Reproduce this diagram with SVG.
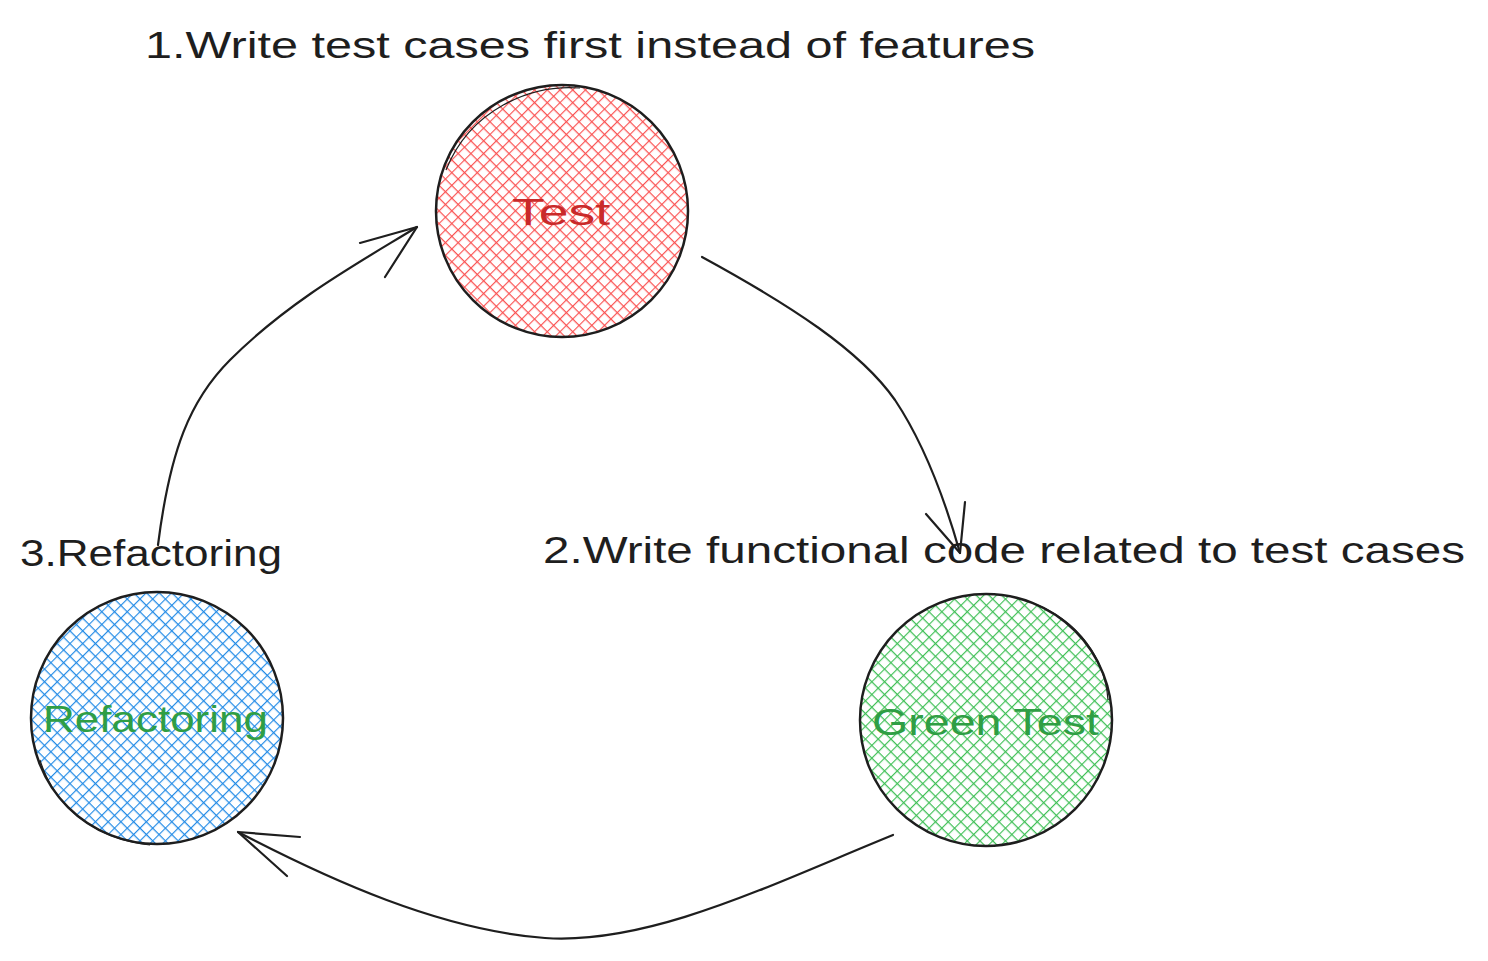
<svg xmlns="http://www.w3.org/2000/svg" width="1488" height="961" viewBox="0 0 1488 961">
<defs>
<pattern id="hRed" width="9" height="9" patternUnits="userSpaceOnUse" patternTransform="rotate(45)">
<path d="M0,0.5 H9 M0.5,0 V9" stroke="#fa5252" stroke-width="1.3" fill="none"/>
</pattern>
<pattern id="hBlue" width="9" height="9" patternUnits="userSpaceOnUse" patternTransform="rotate(45)">
<path d="M0,0.5 H9 M0.5,0 V9" stroke="#228be6" stroke-width="1.3" fill="none"/>
</pattern>
<pattern id="hGreen" width="9" height="9" patternUnits="userSpaceOnUse" patternTransform="rotate(45)">
<path d="M0,0.5 H9 M0.5,0 V9" stroke="#40c057" stroke-width="1.3" fill="none"/>
</pattern>
</defs>
<style>
.ring{stroke:#1e1e1e;stroke-width:2.5;}
.ring2{fill:none;stroke:#1e1e1e;stroke-width:1.2;}
.lbl{font-family:"Liberation Sans","DejaVu Sans",sans-serif;font-size:36px;fill:#1e1e1e;}
.in{font-family:"Liberation Sans","DejaVu Sans",sans-serif;font-size:36px;}
.conn{fill:none;stroke:#1e1e1e;stroke-width:2.2;stroke-linecap:round;stroke-linejoin:round;}
</style>
<rect width="1488" height="961" fill="#ffffff"/>
<g id="node-test">
<circle cx="562" cy="211" r="126" fill="url(#hRed)" class="ring"/>
<path class="ring2" d="M446,170 C470,110 530,84 580,88"/>
<text class="in" x="512" y="225" fill="#c92a2a" textLength="98" lengthAdjust="spacingAndGlyphs">Test</text>
</g>
<g id="node-green">
<circle cx="986" cy="720" r="126" fill="url(#hGreen)" class="ring"/>
<path class="ring2" d="M1030,602 C1080,620 1105,660 1108,700"/>
<text class="in" x="872" y="735" fill="#2f9e44" textLength="227" lengthAdjust="spacingAndGlyphs">Green Test</text>
</g>
<g id="node-refactoring">
<circle cx="157" cy="718" r="126" fill="url(#hBlue)" class="ring"/>
<path class="ring2" d="M40,760 C55,810 100,840 150,845"/>
<text class="in" x="43" y="732" fill="#2f9e44" textLength="225" lengthAdjust="spacingAndGlyphs">Refactoring</text>
</g>
<g id="label-1">
<text class="lbl" x="145" y="58" textLength="890" lengthAdjust="spacingAndGlyphs">1.Write test cases first instead of features</text>
</g>
<g id="label-2">
<text class="lbl" x="543" y="563" textLength="922" lengthAdjust="spacingAndGlyphs">2.Write functional code related to test cases</text>
</g>
<g id="label-3">
<text class="lbl" x="20" y="566" textLength="262" lengthAdjust="spacingAndGlyphs">3.Refactoring</text>
</g>
<g id="connectors">
<path class="conn" d="M702,257 C790,305 860,350 895,400 C925,445 945,500 960,553"/>
<path class="conn" d="M926,514 L960,553 L965,502"/>
<path class="conn" d="M893,835 C770,885 650,945 545,938 C440,930 330,880 238,832"/>
<path class="conn" d="M300,837 L238,832 L287,876"/>
<path class="conn" d="M158,545 C170,450 190,400 230,360 C290,300 360,262 417,227"/>
<path class="conn" d="M360,243 L417,227 L385,277"/>
</g>
</svg>
